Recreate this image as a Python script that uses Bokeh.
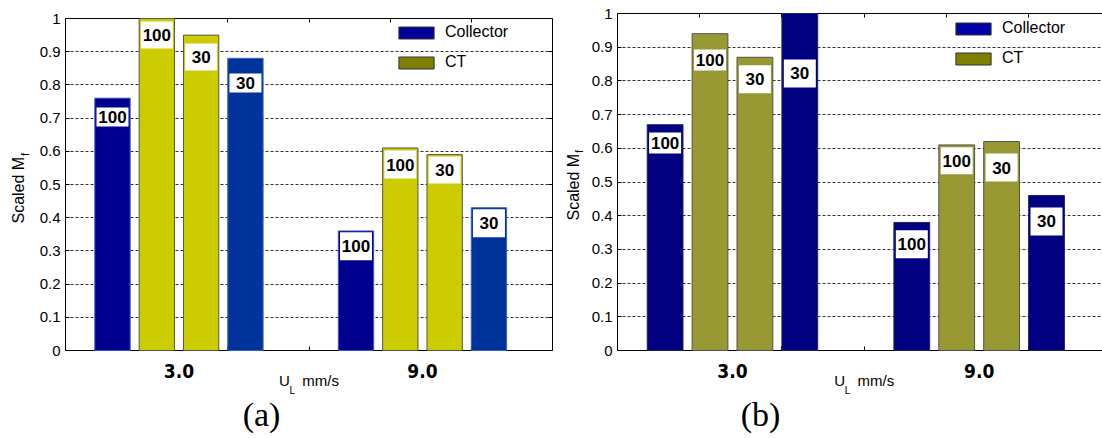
from bokeh.plotting import figure
from bokeh.models import (ColumnDataSource, FixedTicker, LinearAxis, Range1d,
                          Label, Legend, LegendItem)
from bokeh.layouts import row, column
from bokeh.embed import file_html
from bokeh.resources import INLINE
from bokeh.core.properties import value

# ---------------- data ----------------
groups = ["3.0", "9.0"]                       # U_L mm/s categories
series_names = ["Collector", "CT", "CT", "Collector"]
series_tags = ["100", "100", "30", "30"]

# panel (a)
a_collector_100 = [0.76, 0.36]
a_ct_100 = [1.00, 0.61]
a_ct_30 = [0.95, 0.59]
a_collector_30 = [0.88, 0.43]

# panel (b)
b_collector_100 = [0.67, 0.38]
b_ct_100 = [0.94, 0.61]
b_ct_30 = [0.87, 0.62]
b_collector_30 = [1.00, 0.46]

# y level (data units) of the centre of each white tag, as read
a_tag_level = [[0.703, 0.314], [0.950, 0.560], [0.884, 0.544], [0.806, 0.383]]
b_tag_level = [[0.616, 0.315], [0.862, 0.563], [0.805, 0.543], [0.822, 0.383]]

y_ticks = [0, 0.1, 0.2, 0.3, 0.4, 0.5, 0.6, 0.7, 0.8, 0.9, 1]
y_tick_labels = ["0", "0.1", "0.2", "0.3", "0.4", "0.5", "0.6", "0.7", "0.8", "0.9", "1"]

# ---------------- styles ----------------
SANS = "Liberation Sans"
GROUP_FONT = "'Liberation Sans Narrow', 'DejaVu Sans Condensed', sans-serif"
SERIF = "Liberation Serif"
BAR_W = 0.145
BAR_STEP = 0.182
X_LO = 0.534
NB = "\u00a0"

a_tag_h = [[19, 28], [27, 28], [27, 27], [19, 28]]
b_tag_h = [[21, 28], [21, 27], [28, 28], [28, 28]]

a_fill = ["#00008F", "#CCCC00", "#CCCC00", "#003399"]
a_edge = ["#3A4FC0", "#555555", "#555555", "#3A5FC0"]
b_fill = ["#000080", "#999933", "#999933", "#000080"]
b_edge = ["#20205A", "#505050", "#505050", "#20205A"]
a_leg = ["#000099", "#808000"]
b_leg = ["#0000A8", "#808000"]


def make_panel(vals, tag_level, tag_h, fills, edges, leg_cols, frame_w, frame_h,
               x_hi, b_left, b_right, b_top, right_axis, leg_xy, ylab,
               caption, cap_x):
    p = figure(frame_width=frame_w, frame_height=frame_h, title=None,
               x_range=Range1d(X_LO, x_hi), y_range=Range1d(0, 1),
               output_backend="svg", toolbar_location=None,
               min_border_left=b_left, min_border_right=b_right,
               min_border_top=b_top, min_border_bottom=438 - b_top - frame_h,
               outline_line_color=None, background_fill_color="white",
               border_fill_color="white")

    centers = [1 + i for i in range(len(groups))]
    offsets = [(-1.5 + k) * BAR_STEP for k in range(4)]
    full_hi = X_LO + 2.0
    minor = [X_LO + k * (full_hi - X_LO) / 6 for k in range(1, 6)]

    # bottom axis
    xa = p.xaxis[0]
    xa.ticker = FixedTicker(ticks=centers, minor_ticks=minor)
    xa.major_label_overrides = {c: g for c, g in zip(centers, groups)}
    xa.major_tick_in = 0
    xa.major_tick_out = 0
    xa.minor_tick_in = 4
    xa.minor_tick_out = 0
    xa.major_label_standoff = 13
    xa.major_label_text_font = GROUP_FONT
    xa.major_label_text_font_style = "bold"
    xa.major_label_text_font_size = "19px"
    xa.major_label_text_color = "black"
    xa.axis_line_color = "black"

    # top axis (ticks only)
    ta = LinearAxis(ticker=FixedTicker(ticks=[], minor_ticks=minor),
                    major_label_standoff=0, major_tick_in=0, major_tick_out=0,
                    minor_tick_in=4, minor_tick_out=0, axis_line_color="black",
                    axis_label_standoff=0)
    p.add_layout(ta, "above")

    # left axis
    ya = p.yaxis[0]
    yt = FixedTicker(ticks=y_ticks, minor_ticks=[])
    ya.ticker = yt
    ya.major_label_overrides = {t: s for t, s in zip(y_ticks, y_tick_labels)}
    ya.major_tick_in = 4
    ya.major_tick_out = 0
    ya.minor_tick_line_color = None
    ya.major_label_standoff = 5
    ya.major_label_text_font = SANS
    ya.major_label_text_font_size = "15px"
    ya.major_label_text_color = "black"
    ya.axis_line_color = "black"

    if right_axis:
        ra = LinearAxis(ticker=FixedTicker(ticks=[], minor_ticks=y_ticks),
                        major_label_standoff=0, major_tick_in=0, major_tick_out=0,
                        minor_tick_in=4, minor_tick_out=0, axis_line_color="black",
                        axis_label_standoff=0)
        p.add_layout(ra, "right")

    p.xgrid.visible = False
    p.ygrid.ticker = yt
    p.ygrid.grid_line_color = "#333333"
    p.ygrid.grid_line_dash = "3 2"
    p.ygrid.grid_line_width = 1

    # bars
    for k in range(4):
        src = ColumnDataSource(dict(x=[c + offsets[k] for c in centers],
                                    top=vals[k]))
        p.vbar(x="x", top="top", bottom=0, width=BAR_W, source=src,
               fill_color=fills[k], line_color=edges[k], line_width=1,
               level="overlay")
    # tags
    for k in range(4):
        src = ColumnDataSource(dict(x=[c + offsets[k] for c in centers],
                                    y=tag_level[k], h=tag_h[k],
                                    t=[series_tags[k]] * len(centers)))
        p.rect(x="x", y="y", width=32, height="h", width_units="screen",
               height_units="screen", source=src, fill_color="white",
               line_color=None, level="overlay")
        p.text(x="x", y="y", text="t", source=src, text_font=value(SANS),
               text_font_style="bold", text_font_size="17px",
               text_align="center", text_baseline="middle",
               text_color="black", level="overlay")

    # legend (swatches drawn from out-of-view placeholder bars)
    r1 = p.vbar(x=[-10], top=[0], width=0.1, fill_color=leg_cols[0], line_color="#333333")
    r2 = p.vbar(x=[-10], top=[0], width=0.1, fill_color=leg_cols[1], line_color="#333333")
    leg = Legend(items=[LegendItem(label="Collector", renderers=[r1]),
                        LegendItem(label="CT", renderers=[r2])],
                 location=leg_xy, padding=0, margin=0, spacing=12,
                 glyph_width=44, glyph_height=15, label_height=15,
                 label_standoff=7, label_text_font=SANS,
                 label_text_font_size="16px", label_text_color="black",
                 border_line_color=None, background_fill_alpha=0)
    p.add_layout(leg)

    # y label  "Scaled M_f"  (side panel, canvas pixels, centre of em box)
    lx, ly, fx = ylab
    p.add_layout(Label(x=lx, y=ly, x_units="canvas", y_units="canvas",
                       text="Scaled M", angle=1.5707963, text_align="left",
                       text_baseline="middle", text_font=SANS,
                       text_font_size="16px", text_color="black"), "left")
    p.add_layout(Label(x=fx, y=ly - 67.5, x_units="canvas",
                       y_units="canvas", text="f", angle=1.5707963,
                       text_align="left", text_baseline="middle",
                       text_font=SANS, text_font_size="11px", text_color="black"),
                 "left")

    # x label  "U_L mm/s"
    mid = (X_LO + full_hi) / 2
    p.add_layout(Label(x=mid, y=380.4, y_units="canvas", x_offset=-30,
                       text="U" + NB * 3 + "mm/s", text_align="left",
                       text_baseline="middle", text_font=SANS,
                       text_font_size="15px", text_color="black"), "below")
    p.add_layout(Label(x=mid, y=389.5, y_units="canvas", x_offset=-19.5,
                       text="L", text_align="left", text_baseline="middle",
                       text_font=SANS, text_font_size="10px", text_color="black"),
                 "above")

    # caption
    p.add_layout(Label(x=cap_x, y=414, x_units="canvas", y_units="canvas",
                       text=caption, text_align="center",
                       text_baseline="middle", text_font=SERIF,
                       text_font_size="34px", text_color="black"), "below")
    return p


a_vals = [a_collector_100, a_ct_100, a_ct_30, a_collector_30]
b_vals = [b_collector_100, b_ct_100, b_ct_30, b_collector_30]

pa = make_panel(a_vals, a_tag_level, a_tag_h, a_fill, a_edge, a_leg,
                487, 332, X_LO + 2.0, 65, 4, 18, True, (329, 279),
                (18.4, 223, 24.2), "(a)", 261)
pb = make_panel(b_vals, b_tag_level, b_tag_h, b_fill, b_edge, b_leg,
                485, 337, 2.50, 61, 0, 13, False, (334, 283),
                (16.9, 220, 22.7), "(b)", 204)

layout = row(column(pa), column(pb), spacing=0)
open("out.html", "w").write(file_html(layout, INLINE))
